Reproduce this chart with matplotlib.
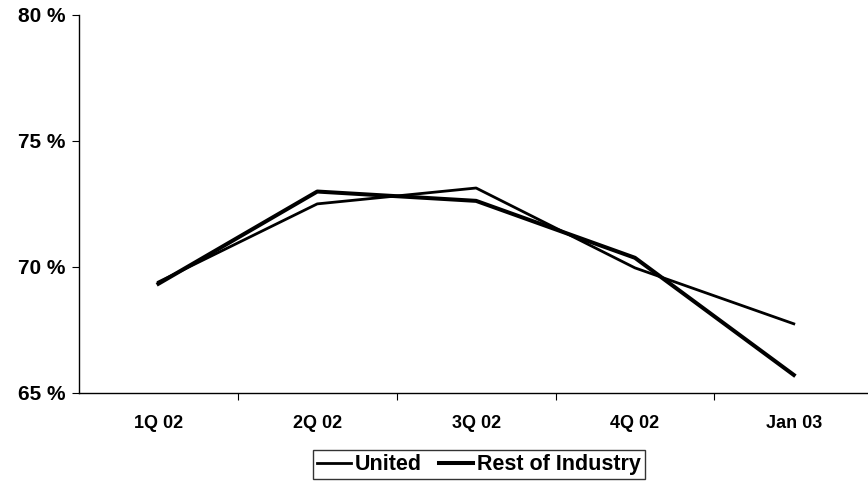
import matplotlib.pyplot as plt

plt.rcParams['font.family'] = ['Liberation Sans', 'DejaVu Sans']

quarters = ['1Q 02', '2Q 02', '3Q 02', '4Q 02', 'Jan 03']
united = [69.4, 72.5, 73.13, 69.96, 67.74]
rest_of_industry = [69.33, 72.99, 72.62, 70.36, 65.71]
y_ticks = [65, 70, 75, 80]

fig = plt.figure(figsize=(8.68, 4.82), dpi=100)
ax = fig.add_axes([0.091, 0.185, 0.915, 0.784])

x = range(len(quarters))
ax.plot(x, united, color='black', lw=2.0, label='United')
ax.plot(x, rest_of_industry, color='black', lw=2.9, label='Rest of Industry')

ax.set_ylim(65, 80)
ax.set_xlim(-0.5, len(quarters) - 0.5)
ax.set_yticks(y_ticks)
ax.set_yticklabels([f'{v} %' for v in y_ticks], fontsize=15, fontweight='bold')

# category labels centred, tick marks on the boundaries
ax.set_xticks([i + 0.5 for i in range(len(quarters) - 1)])
ax.set_xticklabels([])
ax.set_xticks(list(x), minor=True)
ax.set_xticklabels(quarters, minor=True, fontsize=13, fontweight='bold')
ax.tick_params(axis='x', which='minor', length=0, pad=16)
ax.tick_params(axis='x', which='major', length=5, direction='out')
ax.tick_params(axis='y', length=5, direction='out', pad=5)

for s in ['top', 'right']:
    ax.spines[s].set_visible(False)
for s in ['left', 'bottom']:
    ax.spines[s].set_linewidth(1.0)

leg = fig.legend(loc='center', bbox_to_anchor=(0.552, 0.036), ncol=2,
                 frameon=True, fancybox=False, edgecolor='black',
                 handlelength=1.55, handletextpad=0.2, columnspacing=0.8,
                 borderpad=0.2, borderaxespad=0,
                 prop={'weight': 'bold', 'size': 15.5})
leg.get_frame().set_linewidth(1.0)

fig.savefig('out.png', dpi=100)
